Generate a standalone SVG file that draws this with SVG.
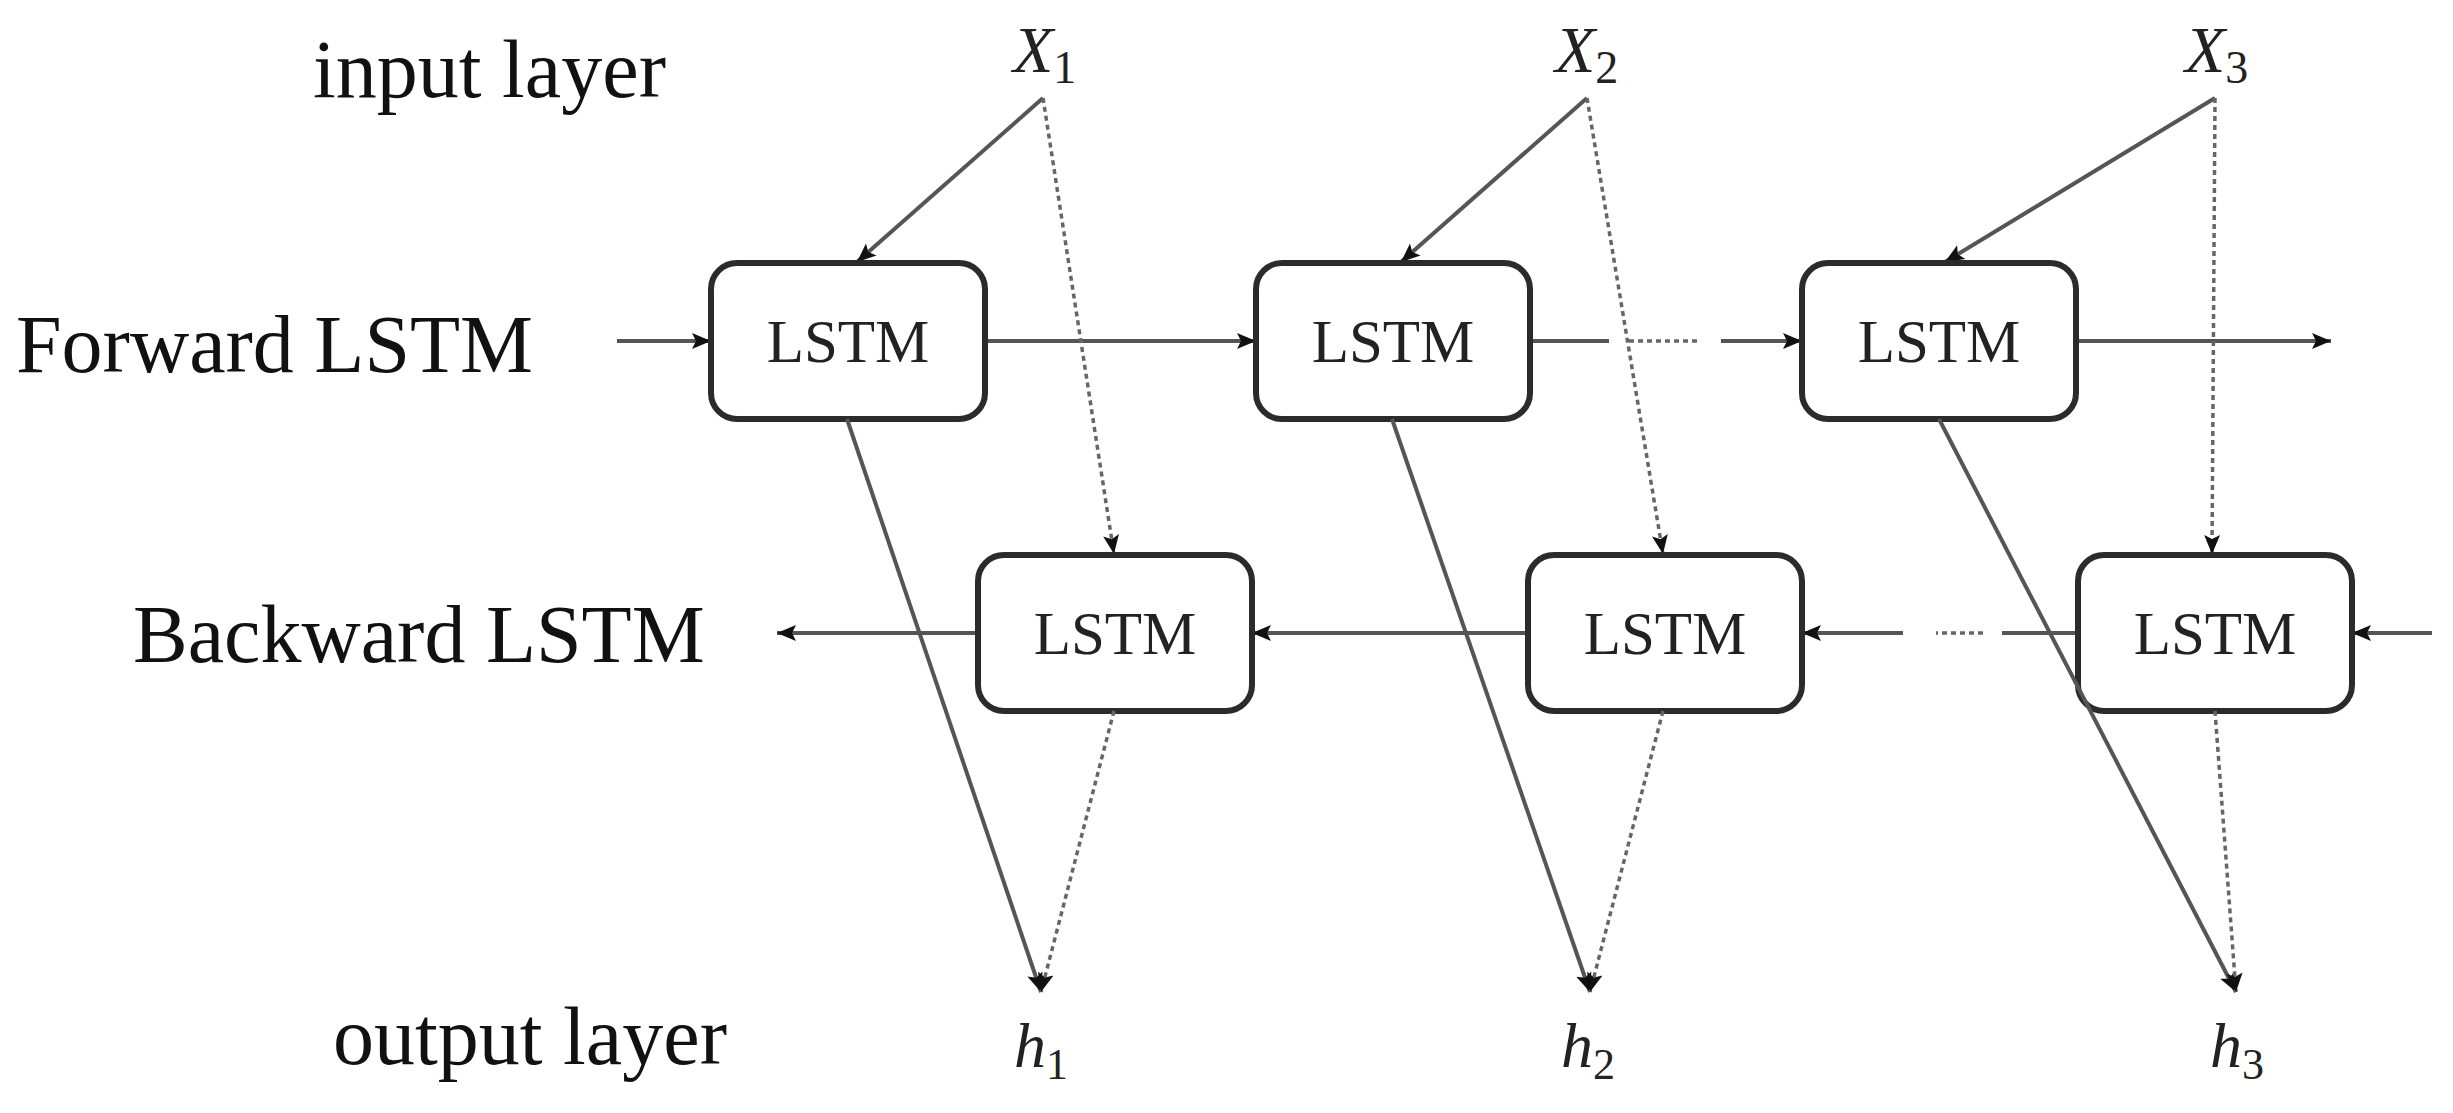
<svg xmlns="http://www.w3.org/2000/svg" width="2453" height="1113" viewBox="0 0 2453 1113">
<style>
.lbl{font-family:"Liberation Serif","Times New Roman",serif;font-size:82px;fill:#111}
.box rect{fill:#fff;stroke:#2b2b2b;stroke-width:6}
.box text{font-family:"Liberation Serif","Times New Roman",serif;font-size:61px;fill:#222;text-anchor:middle}
.math{font-family:"Liberation Serif","DejaVu Serif",serif;font-style:italic;fill:#222}
.sub{font-style:normal}
.ln{fill:none;stroke:#555;stroke-width:4}
.dot{fill:none;stroke:#666;stroke-width:3.5;stroke-dasharray:5 4}
.arr{marker-end:url(#ah)}
</style>
<defs>
<marker id="ah" markerUnits="userSpaceOnUse" markerWidth="22" markerHeight="20" refX="19" refY="10" orient="auto">
<path d="M0,2 L19,10 L0,18 L4,10 z" fill="#111"/>
</marker>
</defs>
<rect width="2453" height="1113" fill="#fff"/>
<g id="labels">
<text class="lbl" x="313" y="97">input layer</text>
<text class="lbl" x="16" y="372">Forward LSTM</text>
<text class="lbl" x="133" y="662">Backward LSTM</text>
<text class="lbl" x="333" y="1064">output layer</text>
</g>
<g id="inputs">
<text class="math" x="1013" y="72" font-size="66">X<tspan class="sub" font-size="46" dy="11">1</tspan></text>
<text class="math" x="1555" y="72" font-size="66">X<tspan class="sub" font-size="46" dy="11">2</tspan></text>
<text class="math" x="2185" y="72" font-size="66">X<tspan class="sub" font-size="46" dy="11">3</tspan></text>
</g>
<g id="outputs">
<text class="math" x="1014" y="1067" font-size="64">h<tspan class="sub" font-size="44" dy="12">1</tspan></text>
<text class="math" x="1561" y="1067" font-size="64">h<tspan class="sub" font-size="44" dy="12">2</tspan></text>
<text class="math" x="2210" y="1067" font-size="64">h<tspan class="sub" font-size="44" dy="12">3</tspan></text>
</g>
<g id="connectors">
<path class="ln arr" d="M617,341 L711,341"/>
<path class="ln arr" d="M985,341 L1256,341"/>
<path class="ln" d="M1530,341 L1609,341"/>
<path class="dot" d="M1629,341 L1697,341"/>
<path class="ln arr" d="M1721,341 L1802,341"/>
<path class="ln arr" d="M2076,341 L2331,341"/>
<path class="ln arr" d="M2432,633 L2352,633"/>
<path class="ln" d="M2078,633 L2002,633"/>
<path class="dot" d="M1983,633 L1936,633"/>
<path class="ln arr" d="M1903,633 L1802,633"/>
<path class="ln arr" d="M1528,633 L1252,633"/>
<path class="ln arr" d="M978,633 L777,633"/>
<path class="ln arr" d="M1043,98 L857,262"/>
<path class="dot arr" d="M1043,98 L1114,554"/>
<path class="ln arr" d="M1587,98 L1401,262"/>
<path class="dot arr" d="M1587,98 L1663,554"/>
<path class="ln arr" d="M2215,98 L1945,262"/>
<path class="dot arr" d="M2215,98 L2212,554"/>
</g>
<g id="fwd1" class="box"><rect x="711" y="263" width="274" height="156" rx="26"/><text x="848" y="362">LSTM</text></g>
<g id="fwd2" class="box"><rect x="1256" y="263" width="274" height="156" rx="26"/><text x="1393" y="362">LSTM</text></g>
<g id="fwd3" class="box"><rect x="1802" y="263" width="274" height="156" rx="26"/><text x="1939" y="362">LSTM</text></g>
<g id="bwd1" class="box"><rect x="978" y="555" width="274" height="156" rx="26"/><text x="1115" y="654">LSTM</text></g>
<g id="bwd2" class="box"><rect x="1528" y="555" width="274" height="156" rx="26"/><text x="1665" y="654">LSTM</text></g>
<g id="bwd3" class="box"><rect x="2078" y="555" width="274" height="156" rx="26"/><text x="2215" y="654">LSTM</text></g>
<g id="connectors-out">
<path class="ln arr" d="M847,419 L1041,992"/>
<path class="dot arr" d="M1114,711 L1041,992"/>
<path class="ln arr" d="M1392,419 L1590,992"/>
<path class="dot arr" d="M1663,711 L1590,992"/>
<path class="ln arr" d="M1939,419 L2236,992"/>
<path class="dot arr" d="M2215,711 L2236,992"/>
</g>
</svg>
